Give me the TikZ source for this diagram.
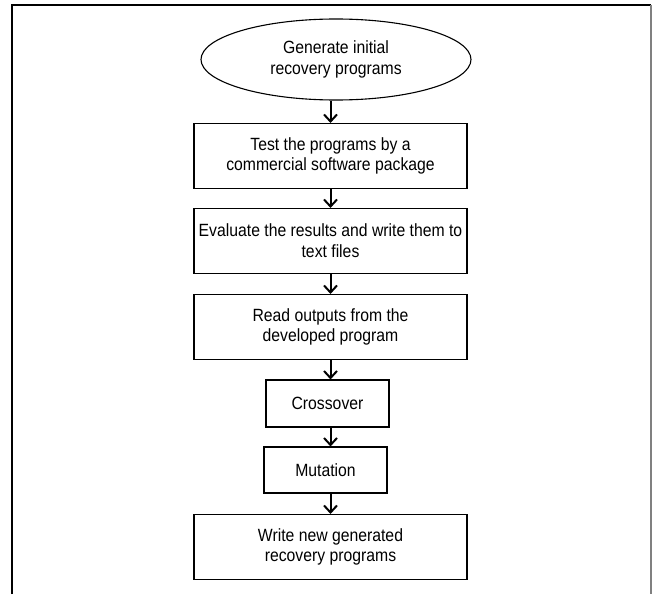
\documentclass[tikz,border=0pt]{standalone}
\usepackage{fontspec}
\setmainfont{Liberation Sans}[FakeStretch=0.89]
\usetikzlibrary{arrows.meta,shapes.geometric}

\tikzset{
	stepbox/.style={draw, line width=1.1pt, minimum width=273pt, minimum height=65pt,
		inner sep=0pt, align=center, font=\fontsize{17.7}{20.7}\selectfont},
	smallbox/.style={stepbox, minimum width=123pt, minimum height=46pt},
	startoval/.style={draw, ellipse, line width=1.1pt, minimum width=270pt, minimum height=81pt,
		inner sep=0pt, align=center, font=\fontsize{17.7}{20.7}\selectfont},
	flow/.style={line width=2pt, -{Straight Barb[length=7pt,width=13pt]}}
}

\begin{document}
\begin{tikzpicture}[x=1pt,y=1pt]
			\useasboundingbox (0,0) rectangle (652,-594);
			% frame, open at the bottom
			\draw[line width=1.4pt](12,-594) -- (12,-5) -- (651,-5);
			\draw[line width=1.2pt, color=gray](651,-5) -- (651,-594);
			% steps
			\node[startoval] (gen) at (336,-59.5) {Generate initial\\recovery programs};
			\node[stepbox] (test) at (330.5,-156) {Test the programs by a\\commercial software package};
			\node[stepbox] (eval) at (330.5,-241) {Evaluate the results and write them to\\text files};
			\node[stepbox] (read) at (330.5,-327) {Read outputs from the\\developed program};
			\node[smallbox, minimum height=47pt] (cross) at (327.5,-403.5) {Crossover};
			\node[smallbox] (mut) at (325.5,-470) {Mutation};
			\node[stepbox] (write) at (330.5,-547) {Write new generated\\recovery programs};
			% connectors
			\draw[flow](gen.south -| test.north) -- (test.north);
			\draw[flow](test) -- (eval);
			\draw[flow](eval) -- (read);
			\draw[flow](read.south) -- (read.south |- cross.north);
			\draw[flow](read.south |- cross.south) -- (read.south |- mut.north);
			\draw[flow](read.south |- mut.south) -- (write.north);
		\end{tikzpicture}
\end{document}
